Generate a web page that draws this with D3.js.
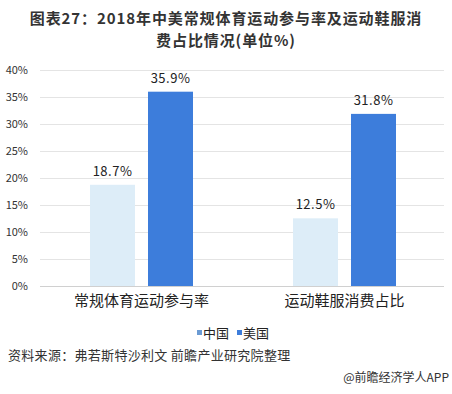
<!DOCTYPE html>
<html>
<head>
<meta charset="utf-8">
<script src="https://cdn.jsdelivr.net/npm/d3@7"></script>
<style>
  body { margin: 0; background: #fff; }
  text { font-family: "Noto Sans CJK SC", "Microsoft YaHei", sans-serif; }
</style>
</head>
<body>
<div id="chart"></div>
<script>
// chart data
const categories = ['常规体育运动参与率', '运动鞋服消费占比'];
const seriesNames = ['中国', '美国'];
const china = [18.7, 12.5];
const usa = [35.9, 31.8];
const yTicks = [0, 5, 10, 15, 20, 25, 30, 35, 40];

const W = 452, H = 394;
const margin = { top: 69.5, left: 40, right: 6, bottom: 108 };
const colors = ['#ddedf8', '#3d7ddb'];
const legendColors = ['#6b9bd3', '#3d7ddb'];

const svg = d3.select('#chart').append('svg').attr('width', W).attr('height', H);

// title, two lines
const title = svg.append('g').attr('font-weight', 'bold').attr('fill', '#333')
  .attr('font-size', 15).attr('text-anchor', 'middle').attr('letter-spacing', 0.9);
title.append('text').attr('x', 226).attr('y', 24).text('图表27：2018年中美常规体育运动参与率及运动鞋服消');
title.append('text').attr('x', 226).attr('y', 46).text('费占比情况(单位%)');

const x0 = d3.scaleBand().domain(categories).range([margin.left, W - margin.right]);
const y = d3.scaleLinear().domain([0, 40]).range([286, margin.top]);

// gridlines
svg.append('g').selectAll('line').data(yTicks).enter().append('line')
  .attr('x1', margin.left).attr('x2', 444)
  .attr('y1', (d) => Math.round(y(d)) + 0.5).attr('y2', (d) => Math.round(y(d)) + 0.5)
  .attr('stroke', (d) => (d === 0 ? '#d0d0d0' : '#e4e4e4')).attr('stroke-width', 1);

// y axis labels
svg.append('g').selectAll('text').data(yTicks).enter().append('text')
  .attr('x', 28).attr('y', (d) => y(d) + 4)
  .attr('text-anchor', 'end').attr('font-size', 11).attr('fill', '#333')
  .text((d) => d + '%');

// bars
const barW = 45, gap = 13;
const series = [china, usa];
series.forEach((vals, si) => {
  const g = svg.append('g');
  categories.forEach((c, ci) => {
    const cx = x0(c) + x0.bandwidth() / 2;
    const bx = si === 0 ? cx - gap / 2 - barW : cx + gap / 2;
    g.append('rect')
      .attr('x', bx).attr('width', barW)
      .attr('y', y(vals[ci])).attr('height', y(0) - y(vals[ci]))
      .attr('fill', colors[si]);
    g.append('text')
      .attr('x', bx + barW / 2).attr('y', y(vals[ci]) - 9)
      .attr('text-anchor', 'middle').attr('font-size', 13).attr('fill', '#222')
      .attr('letter-spacing', 0.5)
      .text(vals[ci].toFixed(1) + '%');
  });
});

// category labels
svg.append('g').selectAll('text').data(categories).enter().append('text')
  .attr('x', (d) => x0(d) + x0.bandwidth() / 2).attr('y', 306)
  .attr('text-anchor', 'middle').attr('font-size', 15).attr('fill', '#222')
  .text((d) => d);

// legend
const legend = svg.append('g').attr('font-size', 13).attr('fill', '#222');
const legX = [197, 237];
seriesNames.forEach((n, i) => {
  legend.append('rect').attr('x', legX[i]).attr('y', 330).attr('width', 5).attr('height', 5)
    .attr('fill', legendColors[i]);
  legend.append('text').attr('x', legX[i] + 6).attr('y', 338).text(n);
});

// source
svg.append('text').attr('x', 8).attr('y', 360).attr('font-size', 13).attr('fill', '#333')
  .attr('letter-spacing', 0.3)
  .text('资料来源：弗若斯特沙利文 前瞻产业研究院整理');
svg.append('text').attr('x', 449).attr('y', 382).attr('text-anchor', 'end')
  .attr('font-size', 12).attr('fill', '#333').text('@前瞻经济学人APP');
</script>
</body>
</html>
